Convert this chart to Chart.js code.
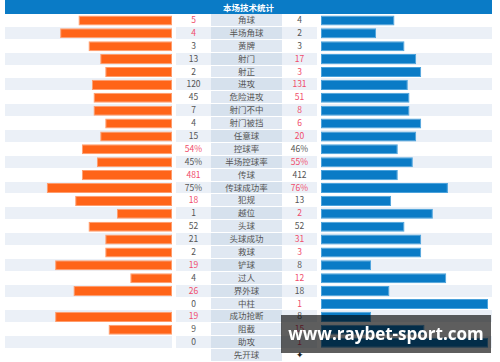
<!DOCTYPE html>
<html>
<head>
<meta charset="utf-8">
<script src="https://cdn.jsdelivr.net/npm/chart.js@4.4.1/dist/chart.umd.min.js"></script>
<style>
  body { margin: 0; width: 500px; height: 362px; overflow: hidden; background: #fff; position: relative;
         font-family: "Noto Sans CJK SC", "Noto Sans", sans-serif; }
  .head { position: absolute; left: 5px; top: 0; width: 487px; height: 14px; background: #0a7bc6;
          color: #fff; font-size: 8.5px; font-weight: bold; line-height: 14px; text-align: center; }
  .cell { position: absolute; font-size: 8.5px; text-align: center; color: #555; }
  canvas { position: absolute; top: 14px; }
  .mark { position: absolute; left: 281px; top: 315px; width: 210px; height: 38px; background: rgba(0,0,0,0.63);
          color: #fff; font: bold 17px "Open Sans", sans-serif; line-height: 38px; text-align: center; }
</style>
</head>
<body>
<div class="head">本场技术统计</div>
<div id="rows"></div>
<canvas id="homeBars" width="167" height="348" style="left:5px"></canvas>
<canvas id="awayBars" width="167" height="348" style="left:321px"></canvas>
<div class="mark">www.raybet-sport.com</div>
<script>
const labels = ['角球', '半场角球', '黄牌', '射门', '射正', '进攻', '危险进攻', '射门不中', '射门被挡', '任意球',
  '控球率', '半场控球率', '传球', '传球成功率', '犯规', '越位', '头球', '头球成功', '救球', '铲球',
  '过人', '界外球', '中柱', '成功抢断', '阻截', '助攻', '先开球'];
const homeText = ['5', '4', '3', '13', '2', '120', '45', '7', '4', '15', '54%', '45%', '481', '75%', '18', '1',
  '52', '21', '2', '19', '4', '26', '0', '19', '9', '0', ''];
const awayText = ['4', '2', '3', '17', '3', '131', '51', '8', '6', '20', '46%', '55%', '412', '76%', '13', '2',
  '52', '31', '3', '8', '12', '18', '1', '8', '15', '1', '✦'];
// bar lengths in percent, as drawn
const homeBar = [56, 67, 50, 43, 40, 48, 47, 47, 40, 43, 54, 45, 54, 75, 58, 33, 50, 40, 40, 70, 25, 59, 0, 70, 38, 0, 0];
const awayBar = [44, 33, 50, 57, 60, 52, 53, 53, 60, 57, 46, 55, 46, 76, 42, 67, 50, 60, 60, 30, 75, 41, 100, 30, 62, 100, 0];

const rowH = 348 / labels.length;
const red = '#f04d6c';
const rows = document.getElementById('rows');

function cell(left, width, top, bg, text, color) {
  const d = document.createElement('div');
  d.className = 'cell';
  d.style.left = left + 'px';
  d.style.width = width + 'px';
  d.style.top = top + 'px';
  d.style.height = (rowH - 1) + 'px';
  d.style.lineHeight = (rowH - 1) + 'px';
  d.style.background = bg;
  if (color) d.style.color = color;
  d.textContent = text || '';
  rows.appendChild(d);
}

labels.forEach((label, i) => {
  const top = 14 + i * rowH;
  const stripe = i % 2 ? '#ebf0f7' : '#fff';
  const h = parseFloat(homeText[i]), a = parseFloat(awayText[i]);
  cell(5, 167, top, i === labels.length - 1 ? '#fff' : stripe);
  cell(176, 35, top, stripe, homeText[i], h > a ? red : null);
  cell(211, 71, top, i % 2 ? '#d6e1ed' : '#e0e8f2', label);
  cell(282, 35, top, stripe, awayText[i], a > h ? red : (i === labels.length - 1 ? '#222' : null));
  cell(321, 171, top, i === labels.length - 1 ? '#fff' : stripe);
});

function makeBars(id, values, color, border, reverse) {
  return new Chart(document.getElementById(id), {
    type: 'bar',
    data: {
      labels,
      datasets: [{
        data: values,
        backgroundColor: color,
        borderColor: border,
        borderWidth: 1,
        borderSkipped: false,
        categoryPercentage: 1,
        barPercentage: 0.78
      }]
    },
    options: {
      indexAxis: 'y',
      responsive: false,
      animation: false,
      layout: { padding: 0 },
      plugins: { legend: { display: false }, tooltip: { enabled: false } },
      scales: {
        x: { min: 0, max: 100, reverse, display: false },
        y: { display: false }
      }
    }
  });
}

makeBars('homeBars', homeBar, '#ff6418', '#ff9c6c', true);
makeBars('awayBars', awayBar, '#0a7bc6', '#4aa2dc', false);
</script>
</body>
</html>
